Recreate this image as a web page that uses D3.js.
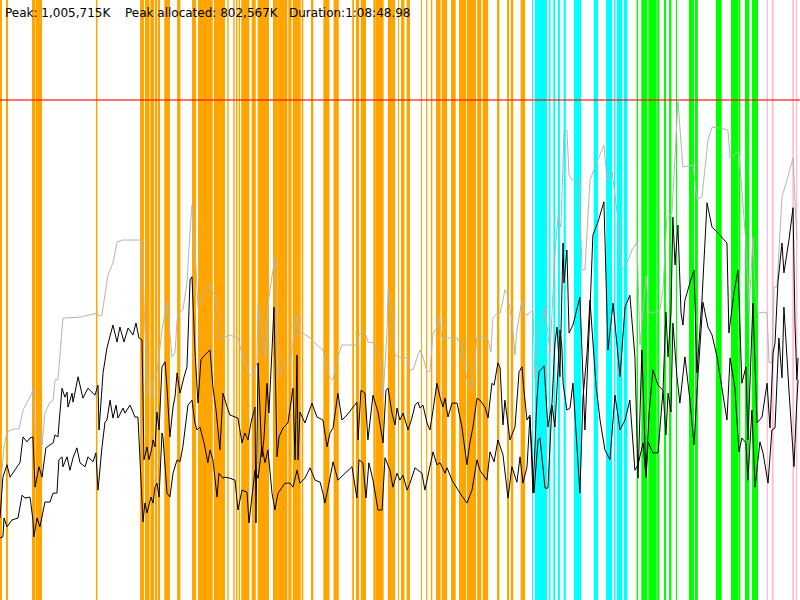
<!DOCTYPE html>
<html>
<head>
<meta charset="utf-8">
<script src="https://cdn.jsdelivr.net/npm/d3@7"></script>
<style>
  html, body { margin: 0; padding: 0; background: #fff; }
  svg { display: block; }
</style>
</head>
<body>
<div id="chart"></div>
<script>
// Run summary (memory in thousands of K, time in seconds)
const durationSec = 4128.98;
const peakK = 1005.715;
const allocPeakK = 802.567;
const yCeiling = 1206.858;
const titleParts = ["Peak: 1,005,715K", "Peak allocated: 802,567K", "Duration:1:08:48.98"];

// Phase spans [start, end] in seconds
const orangeSpans = [
  [0, 10], [31, 41], [165, 181], [183, 217], [495, 503], [723, 743], [748, 772], [776, 796],
  [800, 810], [814, 826], [848, 877], [914, 931], [991, 1012], [1022, 1098], [1104, 1161],
  [1173, 1180], [1204, 1211], [1218, 1225], [1232, 1239], [1245, 1287], [1299, 1320],
  [1330, 1388], [1409, 1431], [1431, 1483], [1488, 1505], [1511, 1552], [1557, 1565],
  [1605, 1617], [1669, 1700], [1722, 1748], [1818, 1827], [1837, 1853], [1862, 1889],
  [1927, 1939], [1939, 1980], [2002, 2039], [2054, 2059], [2070, 2087], [2099, 2116],
  [2173, 2178], [2199, 2205], [2224, 2231], [2250, 2274], [2280, 2307], [2328, 2352],
  [2369, 2405], [2409, 2457], [2463, 2484], [2491, 2519], [2565, 2577], [2617, 2627],
  [2636, 2649], [2687, 2710]
];
const cyanSpans = [
  [2746, 2749], [2761, 2823], [2833, 2841], [2856, 2866], [2880, 2890], [2909, 2920],
  [2962, 2999], [3064, 3086], [3128, 3159], [3169, 3176], [3184, 3212], [3220, 3238]
];
const greenSpans = [
  [3286, 3293], [3310, 3341], [3346, 3389], [3392, 3403], [3427, 3437], [3453, 3465],
  [3489, 3494], [3556, 3582], [3587, 3602], [3695, 3725], [3773, 3812], [3814, 3821],
  [3845, 3867], [3881, 3912]
];
const pinkSpans = [[3957, 3964], [3983, 3993], [4089, 4099], [4108, 4115]];

// Heap size over time [t, value]
const heapSize = [
  [0, 215], [21, 308], [36, 338], [67, 344], [98, 344], [119, 382], [165, 416], [170, 426],
  [181, 346], [201, 342], [217, 312], [232, 376], [258, 398], [274, 402], [284, 443], [299, 443],
  [325, 567], [413, 569], [501, 577], [511, 571], [526, 573], [557, 654], [583, 678], [604, 720],
  [630, 724], [733, 724], [748, 543], [764, 416], [784, 406], [795, 449], [810, 457], [836, 543],
  [862, 599], [888, 489], [903, 497], [914, 563], [924, 579], [944, 583], [965, 638], [981, 744],
  [991, 795], [1012, 664], [1022, 589], [1043, 609], [1058, 620], [1079, 634], [1094, 620],
  [1120, 609], [1135, 523], [1161, 529], [1187, 533], [1228, 527], [1254, 489], [1280, 457],
  [1301, 449], [1326, 477], [1332, 593], [1352, 539], [1368, 489], [1383, 597], [1404, 650],
  [1419, 690], [1440, 449], [1461, 469], [1497, 479], [1512, 517], [1533, 573], [1548, 537],
  [1564, 537], [1600, 527], [1636, 513], [1667, 503], [1688, 463], [1703, 447], [1719, 443],
  [1739, 483], [1765, 513], [1842, 513], [1853, 533], [1868, 539], [1884, 539], [1899, 519],
  [1935, 517], [1961, 483], [1977, 408], [1997, 537], [2003, 624], [2023, 577], [2039, 493],
  [2054, 489], [2101, 487], [2116, 463], [2132, 463], [2152, 487], [2168, 503], [2183, 489],
  [2204, 459], [2219, 459], [2235, 537], [2255, 547], [2266, 569], [2281, 527], [2297, 527],
  [2359, 527], [2384, 509], [2410, 443], [2436, 426], [2446, 469], [2462, 529], [2503, 529],
  [2519, 523], [2534, 499], [2544, 567], [2565, 577], [2581, 577], [2596, 603], [2606, 624],
  [2617, 617], [2642, 563], [2658, 493], [2668, 543], [2694, 603], [2704, 579], [2720, 573],
  [2751, 583], [2761, 443], [2787, 543], [2813, 589], [2839, 497], [2864, 698], [2880, 770],
  [2895, 750], [2911, 941], [2926, 945], [2937, 855], [2952, 845], [2988, 845], [3004, 664],
  [3019, 664], [3045, 845], [3081, 881], [3117, 915], [3133, 845], [3159, 861], [3190, 764],
  [3210, 664], [3236, 678], [3262, 704], [3288, 720], [3303, 513], [3319, 583], [3334, 652],
  [3350, 577], [3380, 579], [3406, 583], [3422, 624], [3442, 770], [3468, 778], [3484, 891],
  [3499, 1006], [3509, 951], [3525, 871], [3577, 875], [3597, 805], [3623, 811], [3654, 925],
  [3675, 951], [3726, 949], [3757, 945], [3768, 889], [3804, 901], [3814, 899], [3850, 718],
  [3866, 579], [3886, 730], [3897, 630], [3912, 577], [3943, 579], [3959, 577], [3969, 477],
  [3984, 477], [3995, 630], [4010, 630], [4036, 811], [4062, 845], [4093, 889], [4113, 724]
];

// Used memory before collection [t, value]
const usedBefore = [
  [0, 165], [15, 247], [36, 272], [52, 247], [88, 268], [103, 276], [119, 328], [139, 318],
  [155, 326], [170, 328], [181, 227], [201, 268], [217, 247], [237, 306], [258, 312], [274, 316],
  [284, 332], [299, 328], [320, 426], [335, 408], [346, 418], [351, 388], [372, 416], [377, 398],
  [403, 449], [428, 406], [454, 426], [490, 412], [506, 432], [511, 342], [532, 457], [552, 507],
  [583, 553], [604, 519], [619, 549], [640, 519], [661, 547], [686, 533], [702, 557], [717, 527],
  [733, 523], [743, 282], [759, 308], [769, 282], [784, 306], [790, 322], [800, 308], [810, 378],
  [821, 342], [836, 469], [852, 479], [862, 428], [877, 328], [893, 388], [903, 408], [914, 457],
  [929, 416], [950, 449], [965, 469], [981, 644], [991, 650], [1006, 503], [1022, 396], [1037, 483],
  [1048, 489], [1084, 503], [1099, 428], [1115, 382], [1135, 302], [1151, 416], [1172, 388],
  [1187, 372], [1228, 366], [1249, 316], [1264, 336], [1280, 322], [1295, 356], [1316, 388],
  [1321, 155], [1332, 477], [1352, 288], [1363, 328], [1378, 436], [1388, 376], [1404, 503],
  [1414, 589], [1430, 288], [1440, 328], [1461, 346], [1486, 356], [1512, 426], [1523, 282],
  [1533, 493], [1538, 282], [1548, 378], [1574, 356], [1610, 396], [1636, 368], [1667, 362],
  [1688, 308], [1703, 336], [1719, 346], [1744, 416], [1765, 362], [1791, 372], [1842, 398],
  [1848, 322], [1863, 422], [1884, 416], [1899, 322], [1925, 412], [1951, 378], [1977, 316],
  [1992, 422], [2003, 426], [2023, 376], [2039, 352], [2049, 386], [2064, 362], [2080, 376],
  [2106, 342], [2126, 366], [2142, 392], [2157, 398], [2168, 386], [2183, 392], [2204, 356],
  [2219, 342], [2235, 382], [2255, 436], [2271, 408], [2286, 388], [2297, 406], [2312, 368],
  [2333, 396], [2359, 396], [2384, 348], [2410, 272], [2426, 318], [2441, 348], [2462, 406],
  [2477, 402], [2503, 388], [2519, 366], [2539, 436], [2550, 432], [2570, 477], [2581, 467],
  [2596, 352], [2606, 402], [2632, 322], [2658, 348], [2679, 459], [2694, 469], [2704, 422],
  [2720, 362], [2735, 372], [2751, 215], [2771, 402], [2782, 459], [2808, 471], [2828, 348],
  [2849, 396], [2864, 517], [2875, 549], [2890, 449], [2906, 718], [2911, 638], [2926, 704],
  [2937, 537], [2957, 553], [2993, 609], [3019, 342], [3045, 583], [3060, 734], [3086, 760],
  [3117, 801], [3138, 503], [3164, 597], [3200, 449], [3226, 589], [3251, 613], [3277, 489],
  [3293, 245], [3313, 503], [3334, 247], [3350, 376], [3370, 463], [3396, 432], [3422, 422],
  [3437, 579], [3448, 489], [3463, 579], [3473, 770], [3484, 674], [3499, 754], [3515, 577],
  [3525, 553], [3535, 603], [3561, 638], [3582, 664], [3597, 457], [3623, 603], [3649, 799],
  [3675, 750], [3716, 734], [3752, 718], [3762, 537], [3788, 617], [3809, 664], [3829, 436],
  [3850, 469], [3860, 322], [3886, 597], [3907, 356], [3933, 368], [3959, 436], [3974, 346],
  [3990, 497], [4000, 517], [4015, 638], [4036, 718], [4046, 658], [4072, 724], [4093, 789],
  [4103, 557], [4113, 443], [4119, 487]
];

// Used memory after collection [t, value]
const usedAfter = [
  [0, 125], [15, 127], [21, 165], [36, 147], [62, 161], [93, 165], [114, 211], [129, 205],
  [155, 207], [170, 161], [175, 127], [191, 165], [206, 147], [232, 197], [258, 197], [274, 215],
  [294, 215], [304, 282], [320, 288], [325, 268], [346, 288], [361, 261], [377, 286], [397, 306],
  [413, 276], [439, 268], [454, 288], [480, 278], [495, 296], [506, 221], [526, 306], [542, 358],
  [552, 362], [568, 402], [583, 366], [599, 392], [609, 366], [635, 386], [645, 376], [671, 392],
  [697, 368], [712, 368], [738, 157], [748, 195], [759, 175], [779, 207], [790, 195], [800, 227],
  [810, 235], [821, 207], [836, 336], [841, 328], [862, 215], [877, 207], [893, 255], [914, 282],
  [929, 278], [944, 308], [970, 392], [991, 402], [1006, 356], [1017, 342], [1032, 348],
  [1053, 316], [1073, 276], [1084, 302], [1099, 282], [1120, 207], [1130, 255], [1151, 245],
  [1161, 247], [1187, 245], [1213, 241], [1228, 181], [1249, 221], [1275, 217], [1285, 155],
  [1316, 261], [1332, 245], [1352, 308], [1368, 276], [1383, 302], [1404, 215], [1419, 181],
  [1435, 215], [1471, 235], [1497, 235], [1512, 227], [1533, 261], [1548, 235], [1574, 245],
  [1600, 266], [1626, 241], [1652, 237], [1667, 215], [1677, 195], [1693, 225], [1719, 278],
  [1744, 241], [1781, 255], [1817, 268], [1842, 205], [1853, 282], [1873, 276], [1889, 205],
  [1904, 276], [1925, 241], [1951, 181], [1972, 181], [1987, 286], [2013, 261], [2028, 227],
  [2049, 255], [2064, 241], [2080, 251], [2101, 221], [2116, 235], [2142, 266], [2157, 261],
  [2178, 255], [2193, 221], [2235, 298], [2255, 272], [2271, 276], [2297, 255], [2307, 266],
  [2333, 241], [2374, 215], [2410, 195], [2436, 221], [2462, 282], [2477, 261], [2513, 241],
  [2529, 298], [2550, 278], [2570, 322], [2596, 292], [2622, 205], [2642, 268], [2668, 237],
  [2684, 288], [2699, 235], [2720, 268], [2735, 368], [2756, 215], [2777, 322], [2787, 326],
  [2813, 225], [2828, 225], [2849, 392], [2864, 348], [2880, 463], [2890, 543], [2900, 509],
  [2906, 436], [2926, 382], [2942, 386], [2957, 436], [2978, 308], [2993, 215], [3009, 408],
  [3030, 497], [3045, 603], [3076, 432], [3097, 362], [3122, 302], [3148, 282], [3174, 412],
  [3200, 342], [3226, 362], [3251, 402], [3277, 261], [3293, 272], [3319, 316], [3334, 247],
  [3345, 318], [3370, 296], [3396, 296], [3422, 422], [3437, 332], [3448, 416], [3463, 378],
  [3473, 557], [3494, 449], [3509, 396], [3535, 489], [3561, 402], [3582, 312], [3602, 449],
  [3628, 599], [3654, 549], [3675, 533], [3701, 489], [3752, 362], [3768, 487], [3793, 426],
  [3814, 298], [3829, 326], [3850, 316], [3860, 241], [3881, 382], [3897, 227], [3922, 318],
  [3938, 296], [3964, 235], [3984, 342], [4000, 346], [4020, 527], [4036, 447], [4046, 589],
  [4072, 422], [4098, 268], [4113, 402], [4119, 443]
];

const width = 800;
const height = 600;

const x = d3.scaleLinear().domain([0, durationSec]).range([0, width]);
const y = d3.scaleLinear().domain([0, yCeiling]).range([height, 0]);

const svg = d3.select("#chart")
  .append("svg")
  .attr("width", width)
  .attr("height", height);

// Phase bands
const phases = [
  { spans: orangeSpans, color: "#ffa500" },
  { spans: cyanSpans, color: "#00ffff" },
  { spans: greenSpans, color: "#00ff00" },
  { spans: pinkSpans, color: "#ffc0cb" }
];
phases.forEach(p => {
  svg.append("g")
    .selectAll("rect")
    .data(p.spans)
    .enter()
    .append("rect")
    .attr("x", d => x(d[0]))
    .attr("y", 0)
    .attr("width", d => Math.max(1, x(d[1]) - x(d[0])))
    .attr("height", height)
    .attr("fill", p.color);
});

// Peak line
svg.append("line")
  .attr("x1", 0)
  .attr("x2", width)
  .attr("y1", y(peakK))
  .attr("y2", y(peakK))
  .attr("stroke", "#ff0000")
  .attr("stroke-opacity", 0.55)
  .attr("stroke-width", 2);

const line = d3.line()
  .x(d => x(d[0]))
  .y(d => y(d[1]));

svg.append("path")
  .datum(heapSize)
  .attr("d", line)
  .attr("fill", "none")
  .attr("stroke", "#b4b4b4")
  .attr("stroke-width", 1);

[usedBefore, usedAfter].forEach(series => {
  svg.append("path")
    .datum(series)
    .attr("d", line)
    .attr("fill", "none")
    .attr("stroke", "#000")
    .attr("stroke-width", 1);
});

// Summary text
const titleX = [5, 125, 289];
svg.selectAll("text.summary")
  .data(titleParts)
  .enter()
  .append("text")
  .attr("class", "summary")
  .attr("x", (d, i) => titleX[i])
  .attr("y", 17)
  .attr("font-family", "DejaVu Sans, sans-serif")
  .attr("font-size", 12)
  .attr("fill", "#000")
  .text(d => d);
</script>
</body>
</html>
